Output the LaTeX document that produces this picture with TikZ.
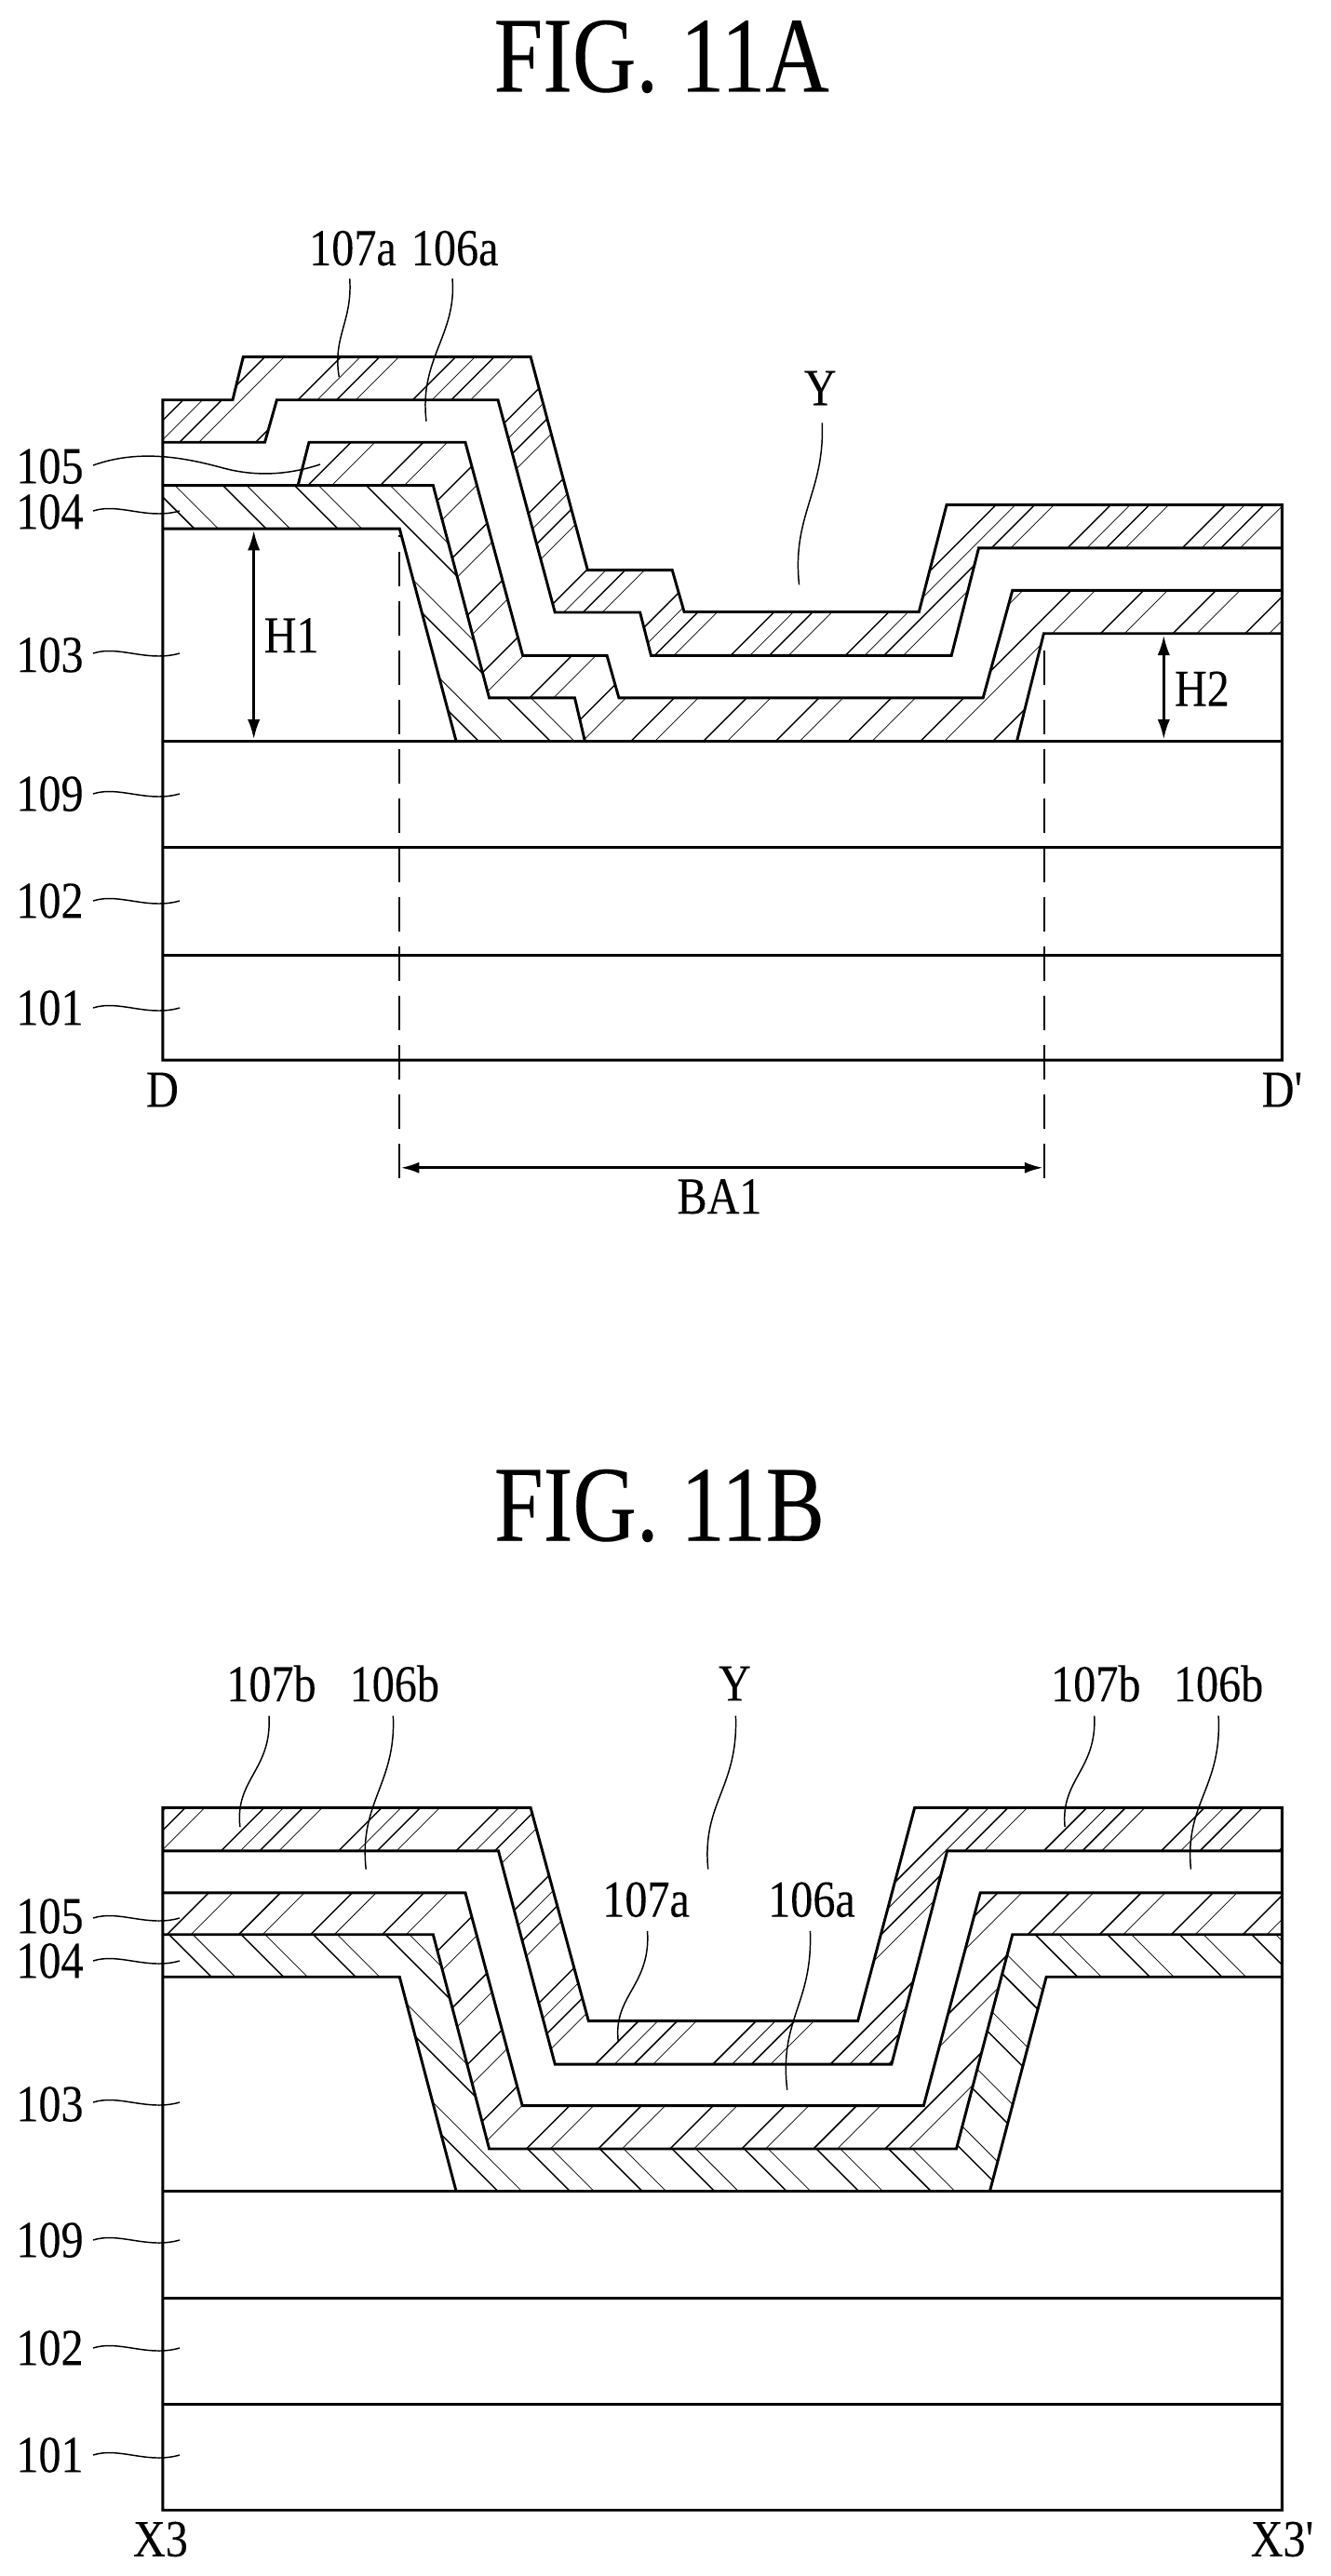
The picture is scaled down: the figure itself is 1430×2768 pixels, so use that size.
\documentclass[tikz,border=0pt]{standalone}
\usepackage{fontspec}
\setmainfont{Liberation Serif}[Ligatures=TeXOff,FakeBold=0.1]
\usetikzlibrary{arrows.meta}
\tikzset{
  outline/.style={line width=2.2pt,line join=miter},
  lead/.style={line width=1.1pt},
  dima/.style={line width=2pt,{Latex[length=16pt,width=10pt]}-{Latex[length=16pt,width=10pt]}},
  dimb/.style={line width=2.2pt,{Latex[length=15pt,width=9pt]}-{Latex[length=15pt,width=9pt]}},
  dashline/.style={line width=1.2pt,dash pattern=on 27.7pt off 12pt},
  lab/.style={inner sep=0pt,xscale=.86,font=\fontsize{42}{46}\selectfont},
  ttl/.style={inner sep=0pt,xscale=.82,font=\fontsize{86.8}{92}\selectfont},
  geom/.style={x=0.741pt,y=-0.741pt}
}
\newcommand\hatchlayer[8]{%
  \begin{scope}
    \clip #1 -- cycle;
    \foreach \hn in {#8}{
      \foreach \ho/\hw in #5 {
        \pgfmathsetmacro\hxa{#3+\hn*#4+\ho-(#2)*#6}
        \pgfmathsetmacro\hxb{#3+\hn*#4+\ho-(#2)*#7}
        \draw[line width=\hw pt] (\hxa,#6) -- (\hxb,#7);
      }
    }
  \end{scope}}
\newcommand\wave[1]{%
  \draw[lead] (100,#1) .. controls (128,#1-9) and (158,#1+10) .. (193,#1);}
\begin{document}
\begin{tikzpicture}[x=0.75pt,y=-0.75pt]
\useasboundingbox (0,0) rectangle (1430,2768);
\fill[white] (0,0) rectangle (1430,2768);

\node[ttl] (titleA) at (710.7,61) {FIG. 11A};
\node[ttl] (titleB) at (708.5,1618) {FIG. 11B};

\begin{scope}[geom]
% ---------- FIG 11A geometry ----------
\hatchlayer{(177,435)--(253,435)--(264.5,388)--(577,388)--(639,620)--(731,620)--(744,665.5)--(999.3,665.5)--(1029.4,549)--(1394,549)--(1394,596)--(1064.3,596)--(1034.6,713)--(708,713)--(696,666)--(603.5,666)--(541.5,435)--(301,435)--(288,481)--(177,481)}{1}{1757}{124.75}{{0/1.1,21/.55,42/1.1,63/.55}}{380}{720}{-10,...,2}
\hatchlayer{(324,528)--(336,481)--(506,481)--(568.5,713)--(660,713)--(673,759)--(1069,759)--(1101,642)--(1394,642)--(1394,689)--(1135,689)--(1105.8,806)--(636,806)--(625,759)--(532,759)--(471,528)}{1}{1571}{78.7}{{0/1.1,26/.55}}{470}{810}{-10,...,8}
\hatchlayer{(177,528)--(471,528)--(532,759)--(625,759)--(636,806)--(496,806)--(434.5,575)--(177,575)}{-1}{-363.6}{78}{{0/1.1,26/.55}}{520}{810}{-1,...,6}

\draw[outline] (177,1153)--(177,435)--(253,435)--(264.5,388)--(577,388)--(639,620)--(731,620)--(744,665.5)--(999.3,665.5)--(1029.4,549)--(1394,549)--(1394,1153)--cycle;
\draw[outline] (177,481)--(288,481)--(301,435)--(541.5,435)--(603.5,666)--(696,666)--(708,713)--(1034.6,713)--(1064.3,596)--(1394,596);
\draw[outline] (324,528)--(336,481)--(506,481)--(568.5,713)--(660,713)--(673,759)--(1069,759)--(1101,642)--(1394,642);
\draw[outline] (177,528)--(471,528)--(532,759)--(625,759)--(636,806);
\draw[outline] (177,575)--(434.5,575)--(496,806);
\draw[outline] (1105.8,806)--(1135,689)--(1394,689);
\draw[outline] (177,806)--(1394,806);
\draw[outline] (177,922)--(1394,922);
\draw[outline] (177,1038.5)--(1394,1038.5);

\draw[dashline] (434.5,1281)--(434.5,582);
\draw[dashline] (1135.5,1281)--(1135.5,695);
\draw[dimb] (435.5,1270)--(1134.5,1270);
\draw[dima] (276,577)--(276,804);
\draw[dima] (1265.5,691)--(1265.5,804);

\node[lab] (lYa) at (892,422) {Y};
\node[lab] (H1) at (317,691) {H1};
\node[lab] (H2) at (1307,749) {H2};
\draw[lead] (894,460) .. controls (897,535) and (861,560) .. (869,636);

% ---------- FIG 11B geometry ----------
\hatchlayer{(177,1966)--(577,1966)--(640,2198)--(932.8,2198)--(994.6,1966)--(1394,1966)--(1394,2013)--(1030,2013)--(969.5,2245)--(603.5,2245)--(542,2013)--(177,2013)}{1}{3148}{127.8}{{0/1.1,21/.55,42/1.1,63/.55}}{1960}{2250}{-9,...,2}
\hatchlayer{(177,2058.5)--(506,2058.5)--(568,2290)--(1004.4,2290)--(1066,2058.5)--(1394,2058.5)--(1394,2104)--(1101,2104)--(1040,2337)--(532,2337)--(471,2104)--(177,2104)}{1}{3299.6}{78}{{0/1.1,26/.55}}{2050}{2340}{-14,...,3}
\hatchlayer{(177,2104)--(471,2104)--(532,2337)--(1040,2337)--(1101,2104)--(1394,2104)--(1394,2150)--(1137.8,2150)--(1076.4,2383)--(496,2383)--(434.5,2150)--(177,2150)}{-1}{-1370.7}{78.5}{{0/1.1,26/.55}}{2100}{2385}{-8,...,9}

\draw[outline] (177,2730)--(177,1966)--(577,1966)--(640,2198)--(932.8,2198)--(994.6,1966)--(1394,1966)--(1394,2730)--cycle;
\draw[outline] (177,2013)--(542,2013)--(603.5,2245)--(969.5,2245)--(1030,2013)--(1394,2013);
\draw[outline] (177,2058.5)--(506,2058.5)--(568,2290)--(1004.4,2290)--(1066,2058.5)--(1394,2058.5);
\draw[outline] (177,2104)--(471,2104)--(532,2337)--(1040,2337)--(1101,2104)--(1394,2104);
\draw[outline] (177,2150)--(434.5,2150)--(496,2383);
\draw[outline] (1076.4,2383)--(1137.8,2150)--(1394,2150);
\draw[outline] (177,2383)--(1394,2383);
\draw[outline] (177,2499)--(1394,2499);
\draw[outline] (177,2615)--(1394,2615);

\node[lab] (l107bL) at (295,1831) {107b};
\node[lab] (l106bL) at (429,1831) {106b};
\node[lab] (lYb) at (799,1831) {Y};
\node[lab] (l107bR) at (1191.6,1831) {107b};
\node[lab] (l106bR) at (1325,1831) {106b};
\node[lab] (l107ab) at (702.5,2066) {107a};
\node[lab] (l106ab) at (882.6,2066) {106a};

\draw[lead] (292.5,1866) .. controls (296,1925) and (255,1935) .. (261,1987);
\draw[lead] (427.5,1866) .. controls (431,1940) and (390,1960) .. (398,2033);
\draw[lead] (800,1866) .. controls (803,1945) and (763,1960) .. (770,2033);
\draw[lead] (1190,1866) .. controls (1193,1925) and (1153,1935) .. (1158,1987);
\draw[lead] (1325,1866) .. controls (1329,1945) and (1288,1960) .. (1295,2033);
\draw[lead] (704,2100) .. controls (708,2160) and (666,2170) .. (672.4,2221);
\draw[lead] (881,2100) .. controls (884,2180) and (847,2195) .. (856,2273);
\end{scope}

% ---------- labels placed in image pixels ----------
\node[lab] (l107a) at (379,266.7) {107a};
\node[lab] (l106a) at (488.7,266.7) {106a};
\node[lab] (l105a) at (53.5,501) {105};
\node[lab] (l104a) at (53.5,550) {104};
\node[lab] (l103a) at (53.5,703.8) {103};
\node[lab] (l109a) at (53.5,853) {109};
\node[lab] (l102a) at (53.5,968) {102};
\node[lab] (l101a) at (53.5,1083) {101};
\node[lab] (D) at (174.5,1171) {D};
\node[lab] (Dp) at (1377.5,1171) {D'};
\node[lab] (BA1) at (773,1285.7) {BA1};
\node[lab] (l105b) at (53.5,2059) {105};
\node[lab] (l104b) at (53.5,2107) {104};
\node[lab] (l103b) at (53.5,2261) {103};
\node[lab] (l109b) at (53.5,2407) {109};
\node[lab] (l102b) at (53.5,2523) {102};
\node[lab] (l101b) at (53.5,2638) {101};
\node[lab] (X3) at (172.5,2728.5) {X3};
\node[lab] (X3p) at (1377.5,2728.5) {X3'};

\draw[lead] (375.7,299.3) .. controls (379,345) and (357,362) .. (364.3,405);
\draw[lead] (486,299.3) .. controls (491,360) and (450,385) .. (458,452.7);
\draw[lead] (100,500) .. controls (150,482) and (200,492) .. (240,503) .. controls (270,511) and (305,512) .. (344,499);
\wave{549}
\wave{702}
\wave{853}
\wave{968}
\wave{1083}
\wave{2061}
\wave{2107}
\wave{2259}
\wave{2407}
\wave{2523}
\wave{2638}
\end{tikzpicture}
\end{document}
